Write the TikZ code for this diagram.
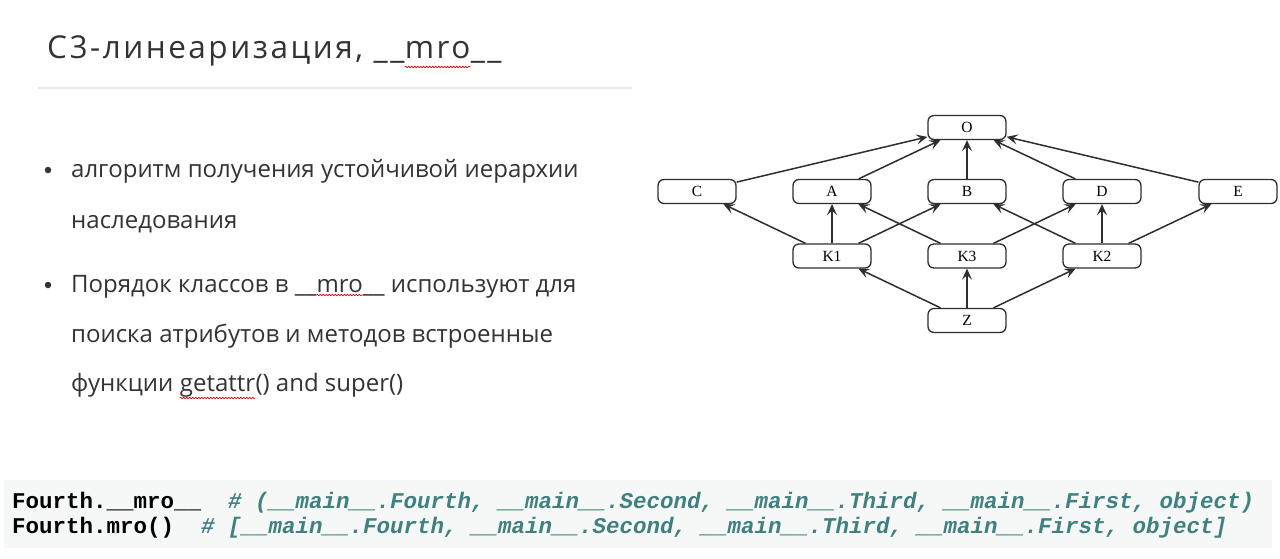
\documentclass[tikz,border=0pt]{standalone}
\usepackage{fontspec}
\setmainfont{Open Sans}
\newfontfamily\titlefont[LetterSpace=8]{Open Sans}
\newfontfamily\nodefont{Liberation Serif}
\newfontfamily\codefont{Liberation Mono}
\usetikzlibrary{arrows.meta,decorations.pathmorphing}
\definecolor{txt}{HTML}{333333}
\definecolor{rule}{HTML}{E9E9E9}
\definecolor{codebg}{HTML}{F6F8F8}
\definecolor{comment}{HTML}{408080}
\definecolor{edge}{HTML}{2E2E2E}
\tikzset{
  cls/.style={draw=edge, line width=1.3pt, rounded corners=6pt,
    minimum width=78pt, minimum height=24pt, inner sep=0pt,
    font=\nodefont\fontsize{15.5}{17}\selectfont, text=black},
  inherit/.style={draw=edge, line width=1.5pt,
    -{Stealth[length=11pt,width=10pt,inset=4.5pt]}},
  bodytext/.style={anchor=base west, inner sep=0pt, text=txt,
    font=\fontsize{24}{28}\selectfont},
  titletext/.style={anchor=base west, inner sep=0pt, text=txt,
    font=\titlefont\fontsize{31.5}{36}\selectfont},
  codeline/.style={anchor=base west, inner sep=0pt,
    font=\codefont\bfseries\fontsize{22.5}{25}\selectfont},
  bulletdot/.style={circle, fill=txt, inner sep=0pt, minimum size=6.5pt},
  spell/.style={draw=red!85!black, line width=0.6pt,
    decorate, decoration={snake, amplitude=0.8pt, segment length=3pt}}
}
\begin{document}
\begin{tikzpicture}[x=1pt, y=-1pt]
  \useasboundingbox[fill=white] (0,0) rectangle (1280,558);

  % heading, split so the flagged word can be underlined
  \node[titletext] (t1) at (47,58) {C3-линеаризация, \_\_};
  \node[titletext] (t2) at (t1.base east) {mro};
  \node[titletext] (t3) at (t2.base east) {\_\_};
  \draw[spell] ([yshift=-9pt]t2.base west) -- ([yshift=-9pt]t2.base east);
  \draw[rule, line width=2pt] (38,88) -- (632,88);

  % bullet list
  \node[bulletdot] (b1) at (48,170) {};
  \node[bodytext] (l1) at (71,177) {алгоритм получения устойчивой иерархии};
  \node[bodytext] (l2) at (71,228) {наследования};
  \node[bulletdot] (b2) at (48,285) {};
  \node[bodytext] (l3a) at (71,292) {Порядок классов в \_\_};
  \node[bodytext] (l3b) at (l3a.base east) {mro};
  \node[bodytext] (l3c) at (l3b.base east) {\_\_ используют для};
  \node[bodytext] (l4) at (71,342) {поиска атрибутов и методов встроенные};
  \node[bodytext] (l5a) at (71,391) {функции};
  \node[bodytext] (l5b) at ([xshift=6.2pt]l5a.base east) {getattr};
  \node[bodytext] (l5c) at (l5b.base east) {() and super()};
  \draw[spell] ([yshift=-3pt]l3b.base west) -- ([yshift=-3pt]l3b.base east);
  \draw[spell] ([yshift=-7pt]l5b.base west) -- ([yshift=-7pt]l5b.base east);

  % class hierarchy
  \node[cls] (O)  at (967,127.5) {O};
  \node[cls] (C)  at (697,191.5) {C};
  \node[cls] (A)  at (832,191.5) {A};
  \node[cls] (B)  at (967,191.5) {B};
  \node[cls] (D)  at (1102,191.5) {D};
  \node[cls] (E)  at (1238,191.5) {E};
  \node[cls] (K1) at (832,256) {K1};
  \node[cls] (K3) at (967,256) {K3};
  \node[cls] (K2) at (1102,256) {K2};
  \node[cls] (Z)  at (967,320.5) {Z};

  \foreach \child/\parent in {C/O, A/O, B/O, D/O, E/O,
      K1/C, K1/A, K1/B, K3/A, K3/D, K2/B, K2/D, K2/E,
      Z/K1, Z/K3, Z/K2}
    \draw[inherit] (\child) -- (\parent);

  % code listing
  \fill[codebg] (4,480) rectangle (1272,548);
  \node[codeline] (c1) at (12,508) {Fourth.\_\_mro\_\_\ \ {\itshape\color{comment}\# (\_\_main\_\_.Fourth, \_\_main\_\_.Second, \_\_main\_\_.Third, \_\_main\_\_.First, object)}};
  \node[codeline] (c2) at (12,533) {Fourth.mro()\ \ {\itshape\color{comment}\# [\_\_main\_\_.Fourth, \_\_main\_\_.Second, \_\_main\_\_.Third, \_\_main\_\_.First, object]}};
\end{tikzpicture}
\end{document}
